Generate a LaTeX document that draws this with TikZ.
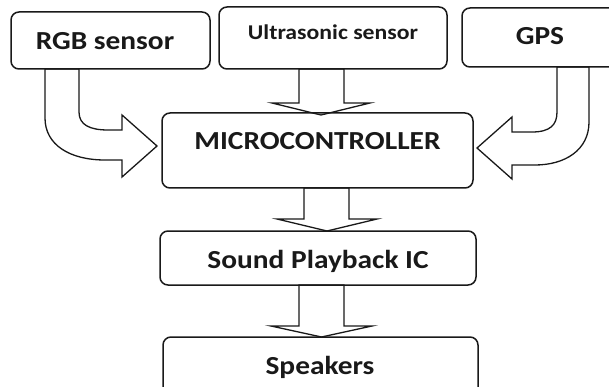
\documentclass[tikz,border=0pt]{standalone}
\usepackage{fontspec}
\setmainfont{Carlito}
\newcommand{\bigtxt}[1]{\scalebox{1.13}[1]{\fontsize{26}{30}\selectfont\bfseries #1}}
\newcommand{\smalltxt}[1]{\scalebox{1.13}[1]{\fontsize{21}{25}\selectfont\bfseries #1}}
\begin{document}
\begin{tikzpicture}[x=1pt,y=-1pt,
  box/.style={draw=black!90, line width=1.5pt, rounded corners=8pt},
  blockarrow/.style={draw=black!90, fill=white, line width=1.3pt, line join=miter},
  lbl/.style={anchor=base, inner sep=0pt, text=black!90}]
\useasboundingbox (0,0) rectangle (609,387);
\clip (0,0) rectangle (609,387);
\fill[white] (0,0) rectangle (609,387);

% block arrows
\draw[blockarrow] (45,69) -- (45,118) .. controls (45,145) and (70,160) .. (105,160)
  -- (122,160) -- (122,177) -- (157,146) -- (122,115) -- (122,130) -- (108,130)
  .. controls (90,130) and (79,125) .. (79,112) -- (79,69) -- cycle;
\draw[blockarrow] (589,67) -- (589,122) .. controls (589,150) and (565,165) .. (535,165)
  -- (512,165) -- (512,179) -- (477,148) -- (512,117) -- (512,132) -- (532,132)
  .. controls (550,132) and (557,125) .. (557,112) -- (557,67) -- cycle;
\draw[blockarrow] (299,69) -- (299,103) -- (272,103) -- (321,115) -- (370,103) -- (344,103) -- (344,69) -- cycle;
\draw[blockarrow] (304,188) -- (304,219) -- (277,219) -- (327,231) -- (377,219) -- (349,219) -- (349,188) -- cycle;
\draw[blockarrow] (299,285) -- (299,326) -- (271,326) -- (321.5,337) -- (372,326) -- (344,326) -- (344,285) -- cycle;

% boxes
\draw[box] (11,12) rectangle (210,69);
\node[inner sep=0pt] (rgb) at (110.5,40.5) {};
\draw[box] (219,7) rectangle (447,69);
\node[inner sep=0pt] (us) at (333,38) {};
\draw[box] (462,8) rectangle (625,67);
\node[inner sep=0pt] (gps) at (540,37.5) {};
\draw[box] (162,113) rectangle (473,188);
\node[inner sep=0pt] (mc) at (317.5,150.5) {};
\draw[box] (160,231) rectangle (476,285);
\node[inner sep=0pt] (sp) at (318,258) {};
\draw[box] (163,337) rectangle (478,398);
\node[inner sep=0pt] (spk) at (320,367) {};

% labels
\node[lbl] (rgbt) at (105,50) {\bigtxt{RGB sensor}};
\node[lbl] (ust) at (333,40) {\smalltxt{Ultrasonic sensor}};
\node[lbl] (gpst) at (540,45) {\bigtxt{GPS}};
\node[lbl] (mct) at (317.5,150) {\bigtxt{MICROCONTROLLER}};
\node[lbl] (spt) at (318,268) {\bigtxt{Sound Playback IC}};
\node[lbl] (spkt) at (320,374) {\bigtxt{Speakers}};
\end{tikzpicture}
\end{document}
